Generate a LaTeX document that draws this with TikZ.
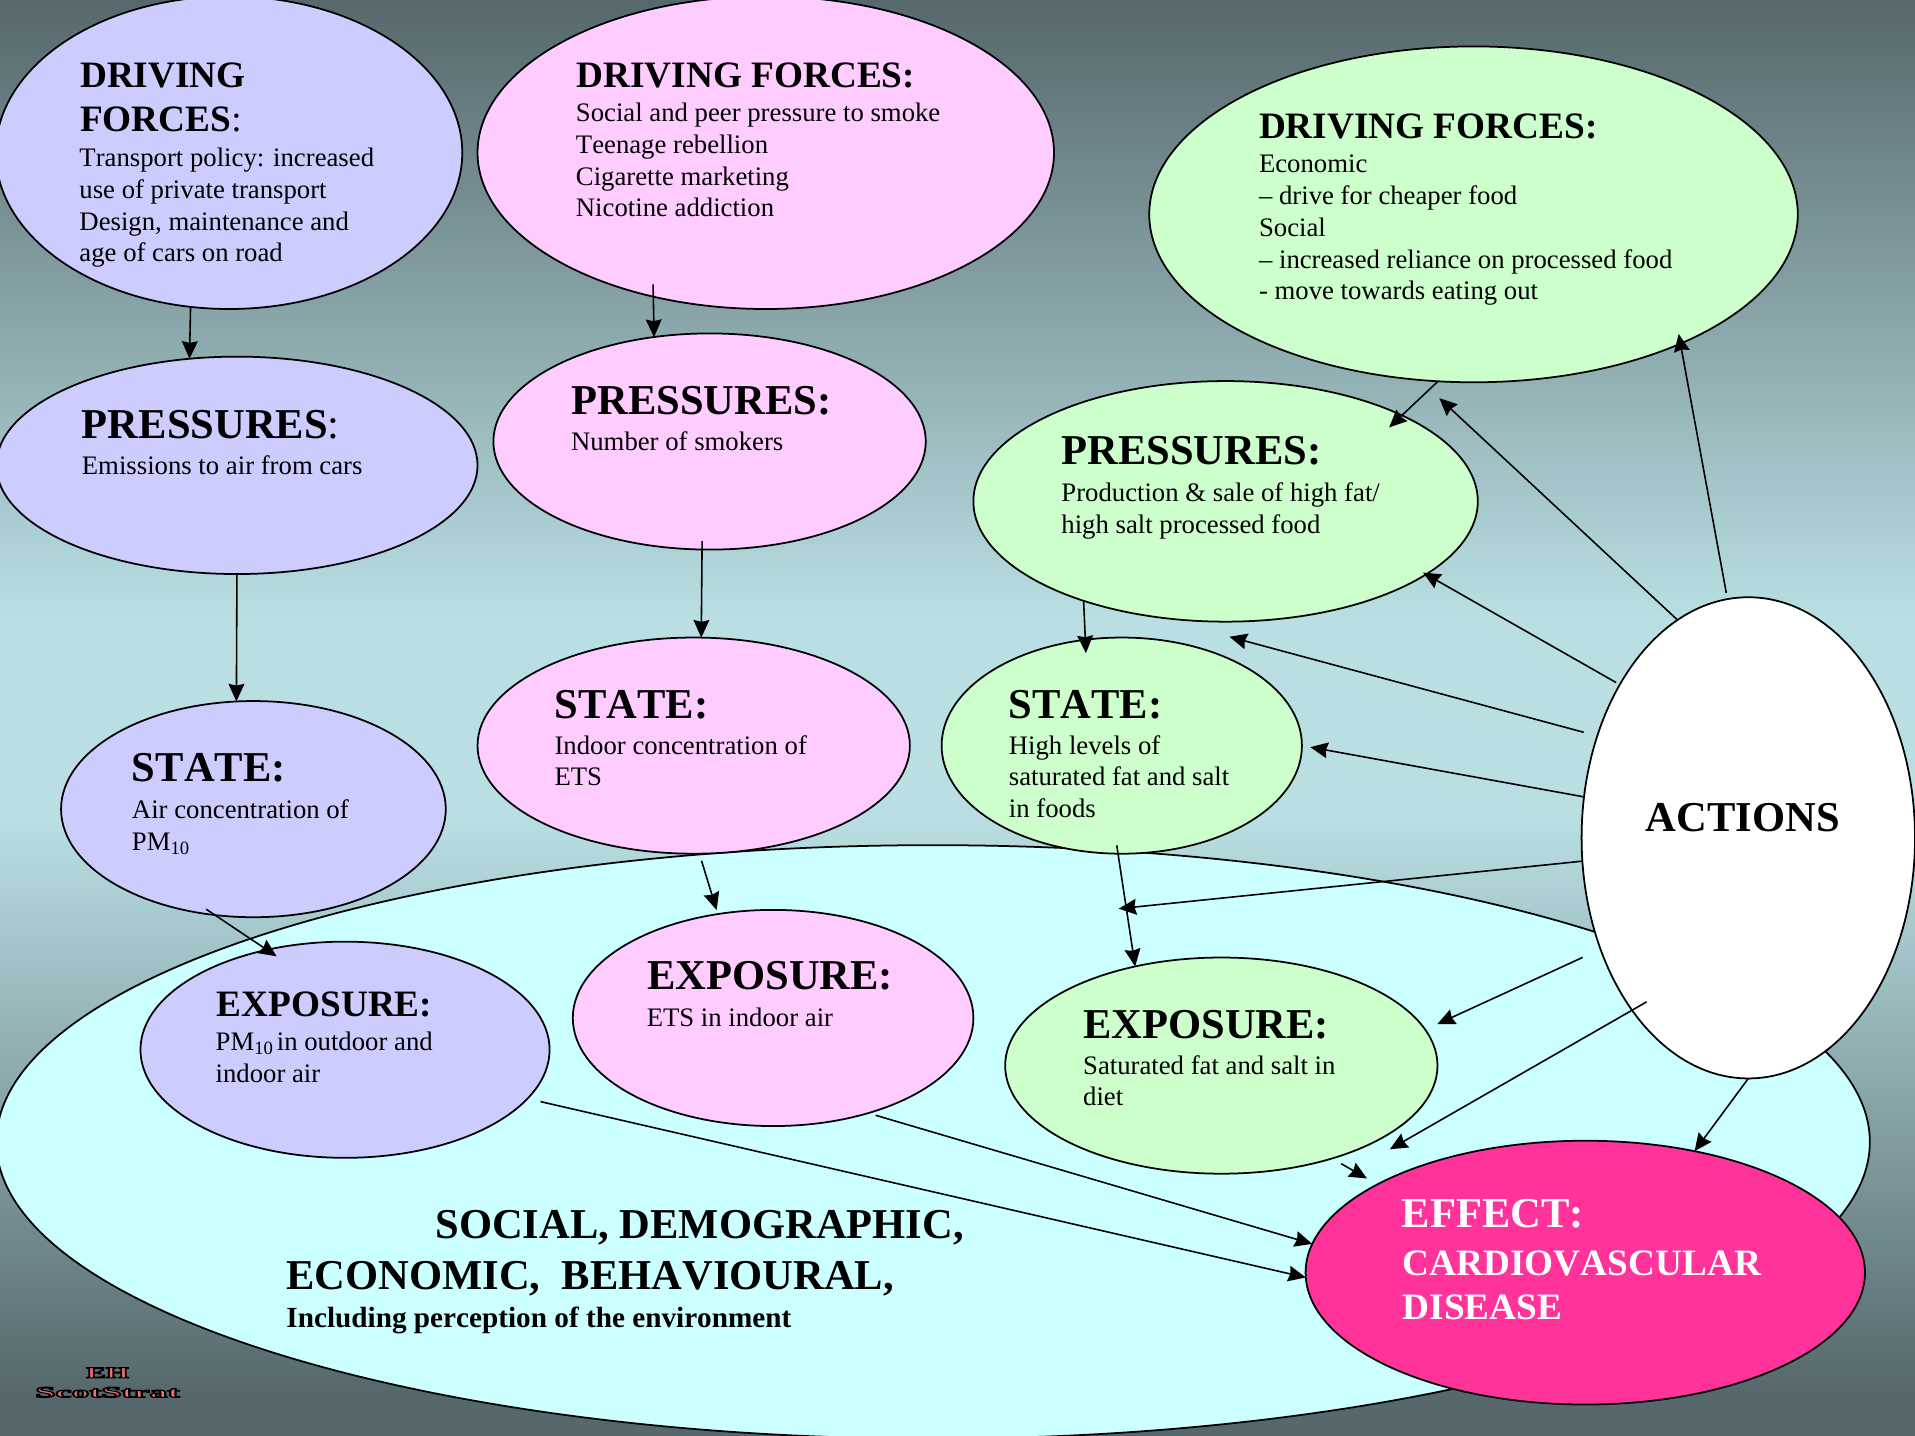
\documentclass[tikz,border=0pt]{standalone}
\usepackage{fontspec}
\setmainfont{Liberation Serif}[Kerning=Off]
\usetikzlibrary{arrows.meta,shapes.geometric}
\definecolor{bgdark}{RGB}{86,104,108}
\definecolor{bglight}{RGB}{185,223,227}
\definecolor{lilac}{RGB}{204,204,255}
\definecolor{rose}{RGB}{255,204,255}
\definecolor{mint}{RGB}{204,255,204}
\definecolor{aqua}{RGB}{204,255,255}
\definecolor{hotpink}{RGB}{255,51,153}
\definecolor{logored}{RGB}{240,110,110}
\newcommand{\bodyfont}{\fontsize{7.6}{9.03}\selectfont}
\newcommand{\headfont}{\fontsize{10.6}{12.5}\selectfont\bfseries}
\newcommand{\bigfont}{\fontsize{12.1}{14}\selectfont\bfseries}
\newcommand{\lightcolon}{{\normalfont :}}
\pgfdeclareverticalshading{backdrop}{100bp}{color(0bp)=(bgdark); color(26.5bp)=(bgdark); color(46.5bp)=(bglight); color(53.5bp)=(bglight); color(75bp)=(bgdark); color(100bp)=(bgdark)}

\begin{document}
\begin{tikzpicture}[
		x=0.012213cm,y=-0.012213cm,
		>={Stealth[inset=0.5pt,length=5pt,width=4.5pt]},
		blob/.style n args={3}{
			ellipse,
			draw,
			line width=0.5pt,
			fill=#1,
			minimum width=#2*0.012213cm,
			minimum height=#3*0.012213cm,
			inner sep=0pt,
			outer sep=0pt
		},
		link/.style={
			->,
			line width=0.45pt
		},
		head/.style={anchor=base west,inner sep=0pt,font=\headfont},
		bighead/.style={anchor=base west,inner sep=0pt,font=\bigfont},
		body/.style={anchor=base west,inner sep=0pt,align=left,font=\bodyfont},
		logo/.style={inner sep=0pt,xscale=#1,font=\fontsize{4.4}{5}\selectfont\bfseries,text=logored}
		]
		\path[use as bounding box,clip] (0,0) rectangle (1568,1175);
		\shade[shading=backdrop] (0,0) rectangle (1568,1175);

		\node[blob={aqua}{1534}{486}] (SOCIAL) at (764,935){};

		% driving forces to exposure, transport
		\node[blob={lilac}{382}{256}] (DF1) at (187.5,125){};
		\node[blob={lilac}{394}{178}] (P1) at (194,381){};
		\node[blob={lilac}{315}{177}] (S1) at (207.5,662.5){};
		\node[blob={lilac}{335}{177}] (E1) at (282.5,859.5){};
		% smoking
		\node[blob={rose}{472}{256}] (DF2) at (627,125){};
		\node[blob={rose}{354}{177}] (P2) at (581,361.5){};
		\node[blob={rose}{354}{177}] (S2) at (568,610.5){};
		\node[blob={rose}{328}{177}] (E2) at (633,833.5){};
		% food
		\node[blob={mint}{531}{275}] (DF3) at (1206.5,175.5){};
		\node[blob={mint}{413}{197}] (P3) at (1003.5,410.5){};
		\node[blob={mint}{295}{177}] (S3) at (918.5,610.5){};
		\node[blob={mint}{354}{177}] (E3) at (1000,872.5){};

		\node[blob={hotpink}{458}{216}] (EFFECT) at (1298,1042){};
		\node[blob={white}{273}{394}] (ACTIONS) at (1431.5,686){};

		% multi-line text sits on its last line
		\node[head] (DF1a) at (65,72) {DRIVING};
		\node[head] (DF1b) at (65,108) {FORCES\lightcolon};
		\node[body] (DF1c) at (64.5,214.5) {Transport policy: increased\\use of private transport\\Design, maintenance and\\age of cars on road};
		\node[bighead] (P1a) at (66.5,359) {PRESSURES\lightcolon};
		\node[body] (P1b) at (66.5,388.5) {Emissions to air from cars};
		\node[bighead] (S1a) at (107.5,640) {STATE:};
		\node[body] (S1b) at (107.5,696.5) {Air concentration of\\PM\textsubscript{10}};
		\node[head] (E1a) at (177,832.5) {EXPOSURE:};
		\node[body] (E1b) at (176,886.5) {PM\textsubscript{10}\hspace{0.6pt}in outdoor and\\indoor air};

		\node[head] (DF2a) at (471.5,72) {DRIVING FORCES:};
		\node[body] (DF2b) at (471,177.5) {Social and peer pressure to smoke\\Teenage rebellion\\Cigarette marketing\\Nicotine addiction};
		\node[bighead] (P2a) at (467.3,339) {PRESSURES:};
		\node[body] (P2b) at (467,368.5) {Number of smokers};
		\node[bighead] (S2a) at (453.5,588) {STATE:};
		\node[body] (S2b) at (453.5,643.5) {Indoor concentration of\\ETS};
		\node[bighead] (E2a) at (529.3,810) {EXPOSURE:};
		\node[body] (E2b) at (529,840.5) {ETS in indoor air};

		\node[head] (DF3a) at (1030.3,113) {DRIVING FORCES:};
		\node[body] (DF3b) at (1030.3,245.5) {Economic\\-- drive for cheaper food\\Social\\-- increased reliance on processed food\\- move towards eating out};
		\node[bighead] (P3a) at (868.5,380.5) {PRESSURES:};
		\node[body] (P3b) at (868.5,437) {Production \& sale of high fat/\\high salt processed food};
		\node[bighead] (S3a) at (825.3,588) {STATE:};
		\node[body] (S3b) at (825.5,669.5) {High levels of\\saturated fat and salt\\in foods};
		\node[bighead] (E3a) at (886.3,850) {EXPOSURE:};
		\node[body] (E3b) at (886.3,905.5) {Saturated fat and salt in\\diet};

		\node[bighead,text=white] (EFFECTa) at (1147.3,1005) {EFFECT:};
		\node[head,text=white] (EFFECTb) at (1148,1044) {CARDIOVASCULAR};
		\node[head,text=white] (EFFECTc) at (1148,1080) {DISEASE};
		\node[bighead] (ACTIONSa) at (1347,681) {ACTIONS};

		\node[bighead] (SOCIALa) at (356,1014) {SOCIAL, DEMOGRAPHIC,};
		\node[bighead] (SOCIALb) at (234,1056) {ECONOMIC,\ \ BEHAVIOURAL,};
		\node[anchor=base west,inner sep=0pt,font=\fontsize{8.31}{10}\selectfont\bfseries] (SOCIALc) at (234,1087) {Including perception of the environment};

		\node[logo=1.9] (LOGOa) at (88,1124) {\special{pdf:code 2 Tr 0.28 w 0 0 0 RG}EH\special{pdf:code 0 Tr}};
		\node[logo=2.33] (LOGOb) at (88,1140) {\special{pdf:code 2 Tr 0.28 w 0 0 0 RG}ScotStrat\special{pdf:code 0 Tr}};

		\coordinate (FREEa) at (916,744);
		\coordinate (FREEb) at (1138,941);

		\draw[link] (DF1.-104.7) -- (P1.114.1);
		\draw[link,shorten <=-3.5pt] (DF2.-128.4) -- (P2.118.3);
		\draw[link] (P1.-90) -- (S1.99.2);
		\draw[link,shorten <=-2.4pt] (P2.-94.9) -- (S2.86.1);
		\draw[link,shorten >=-5pt] (DF3.-102.2) -- (P3.26.2);
		\draw[link,shorten >=-3.8pt] (P3.-145.15) -- (S3.109.4);
		\draw[link,shorten <=-3pt,shorten >=-3.3pt] (S1.-110.6) -- (E1.128.5);
		\draw[link,shorten <=2.1pt,shorten >=1.2pt] (S2.-87.3) -- (E2.118.4);
		\draw[link,shorten <=-2.4pt] (S3.-92.2) -- (E3.131.5);
		\draw[link,shorten <=3.8pt] (E1.-15.5) -- (EFFECT.-179.15);
		\draw[link,shorten <=2.2pt] (E2.-45.2) -- (EFFECT.174.4);
		\draw[link,shorten <=3pt,shorten >=3.4pt] (E3.-40) -- (EFFECT.157.7);

		\draw[link,shorten <=1.8pt,shorten >=-2.8pt] (ACTIONS.95.56) -- (DF3.-32.7);
		\draw[link,shorten >=7.6pt] (ACTIONS.108.2) -- (DF3.-108.56);
		\draw[link,shorten <=1.2pt,shorten >=-1pt] (ACTIONS.130.8) -- (P3.-20.1);
		\draw[link,shorten <=4pt,shorten >=21.6pt] (ACTIONS.146.6) -- (P3.-121.8);
		\draw[link,shorten >=2.4pt] (ACTIONS.166.2) -- (S3.-0.9);
		\draw[link] (ACTIONS.188.4) -- (FREEa);
		\draw[link,shorten <=5.6pt,shorten >=3.8pt] (ACTIONS.217.2) -- (E3.10.8);
		\draw[link,shorten <=-4.8pt] (ACTIONS.236.9) -- (FREEb);
		\draw[link] (ACTIONS.-90) -- (EFFECT.48.6);
		\end{tikzpicture}
\end{document}
